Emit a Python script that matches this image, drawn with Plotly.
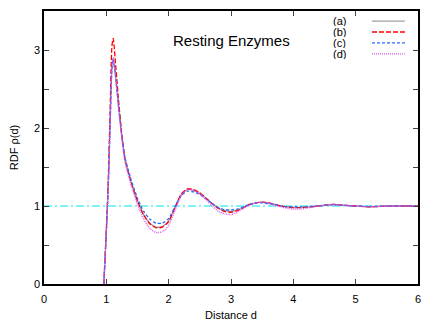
import plotly.graph_objects as go

# distance grid and RDF values
dist = [0.96, 1.0, 1.03, 1.06, 1.09, 1.11, 1.15, 1.2, 1.25, 1.3, 1.4, 1.5, 1.6, 1.7, 1.8,
        1.9, 2.0, 2.1, 2.2, 2.3, 2.4, 2.5, 2.6, 2.7, 2.8, 2.9, 3.0, 3.1, 3.2, 3.3, 3.4,
        3.5, 3.6, 3.7, 3.8, 3.9, 4.0, 4.1, 4.2, 4.35, 4.5, 4.65, 4.8, 5.0, 5.2, 5.4,
        5.6, 5.8, 6.0]
rdf_a = [0, 0.68, 1.25, 2.05, 2.8, 2.9, 2.65, 2.25, 1.88, 1.6, 1.3, 1.07, 0.89, 0.78, 0.73,
         0.74, 0.81, 0.98, 1.14, 1.21, 1.2, 1.16, 1.1, 1.03, 0.97, 0.94, 0.93, 0.95, 0.98,
         1.02, 1.04, 1.05, 1.04, 1.02, 1.0, 0.99, 0.98, 0.98, 0.985, 0.995, 1.01, 1.02,
         1.01, 1.0, 0.99, 0.995, 1.0, 1.0, 1.0]
rdf_b = [0, 0.7, 1.3, 2.2, 3.05, 3.15, 2.8, 2.32, 1.9, 1.6, 1.3, 1.06, 0.88, 0.77, 0.72,
         0.73, 0.8, 0.98, 1.15, 1.22, 1.21, 1.17, 1.1, 1.03, 0.97, 0.93, 0.92, 0.94, 0.98,
         1.02, 1.04, 1.05, 1.04, 1.02, 1.0, 0.99, 0.98, 0.98, 0.985, 0.995, 1.01, 1.02,
         1.01, 1.0, 0.99, 0.995, 1.0, 1.0, 1.0]
rdf_c = [0, 0.66, 1.22, 2.0, 2.75, 2.88, 2.65, 2.25, 1.9, 1.62, 1.33, 1.1, 0.93, 0.83, 0.78,
         0.78, 0.84, 0.99, 1.13, 1.19, 1.18, 1.15, 1.09, 1.03, 0.98, 0.95, 0.95, 0.96, 0.99,
         1.02, 1.04, 1.04, 1.03, 1.02, 1.0, 0.99, 0.99, 0.99, 0.99, 1.0, 1.01, 1.015,
         1.01, 1.0, 0.995, 0.997, 1.0, 1.0, 1.0]
rdf_d = [0, 0.67, 1.23, 2.02, 2.78, 2.9, 2.64, 2.22, 1.85, 1.56, 1.26, 1.02, 0.83, 0.71, 0.66,
         0.67, 0.75, 0.94, 1.13, 1.21, 1.2, 1.15, 1.08, 1.0, 0.93, 0.9, 0.89, 0.92, 0.97,
         1.01, 1.04, 1.05, 1.04, 1.01, 0.99, 0.97, 0.96, 0.96, 0.97, 0.99, 1.01, 1.02,
         1.01, 1.0, 0.99, 0.995, 1.0, 1.0, 1.0]
labels = ['(a)', '(b)', '(c)', '(d)']
colors = ['#a0a0a0', '#ff0000', '#2a6cff', '#e050f0']
dashes = ['solid', '5px,2px', '3px,2px', '1px,1px']

fig = go.Figure()

# reference line at rho = 1
fig.add_trace(go.Scatter(x=[0, 6], y=[1, 1], mode='lines',
                         line=dict(color='#00e8e8', width=1.2, dash='8px,3px,2px,3px'),
                         showlegend=False, hoverinfo='skip'))

for lab, ys, col, dsh in zip(labels, [rdf_a, rdf_b, rdf_c, rdf_d], colors, dashes):
    fig.add_trace(go.Scatter(x=dist, y=ys, mode='lines', name=lab,
                             line=dict(color=col, width=1.3, dash=dsh, shape='spline', smoothing=0.6),
                             showlegend=False))

# gnuplot style key: label on the left, sample on the right
key_y = [0.963, 0.923, 0.883, 0.843]
for lab, col, dsh, ky in zip(labels, colors, dashes, key_y):
    fig.add_annotation(x=0.81, y=ky, xref='paper', yref='paper', text=lab, showarrow=False,
                       xanchor='right', yanchor='middle', height=10, borderpad=0,
                       font=dict(size=11, color='black'))
    fig.add_shape(type='line', xref='paper', yref='paper', x0=0.877, x1=0.965, y0=ky, y1=ky,
                  line=dict(color=col, width=1.3, dash=dsh))

fig.add_annotation(x=0.5, y=0.93, xref='paper', yref='paper', text='Resting Enzymes',
                   showarrow=False, font=dict(size=15, color='black'))

# the page body adds an 8px margin, so the figure is 8px smaller and shifted
fig.update_layout(width=428, height=313, margin=dict(l=36, r=18, t=3, b=37),
                  plot_bgcolor='white', paper_bgcolor='white',
                  font=dict(family='Liberation Sans, Arial', size=11, color='black'))
fig.update_xaxes(range=[0, 6], tickvals=[0, 1, 2, 3, 4, 5, 6], ticks='inside', ticklen=5,
                 showline=True, linecolor='black', linewidth=1.5, mirror='ticks',
                 showgrid=False, zeroline=False, automargin=False, ticklabelstandoff=4,
                 title=dict(text='Distance d', font=dict(size=11), standoff=7))
fig.update_yaxes(range=[0, 3.5], tickvals=[0, 0.5, 1, 1.5, 2, 2.5, 3],
                 ticktext=['0', '', '1', '', '2', '', '3'], ticks='inside', ticklen=5,
                 showline=True, linecolor='black', linewidth=1.5, mirror='ticks',
                 showgrid=False, zeroline=False, automargin=False,
                 title=dict(text='RDF ρ(d)', font=dict(size=11), standoff=15))

fig.write_html("out.html")
